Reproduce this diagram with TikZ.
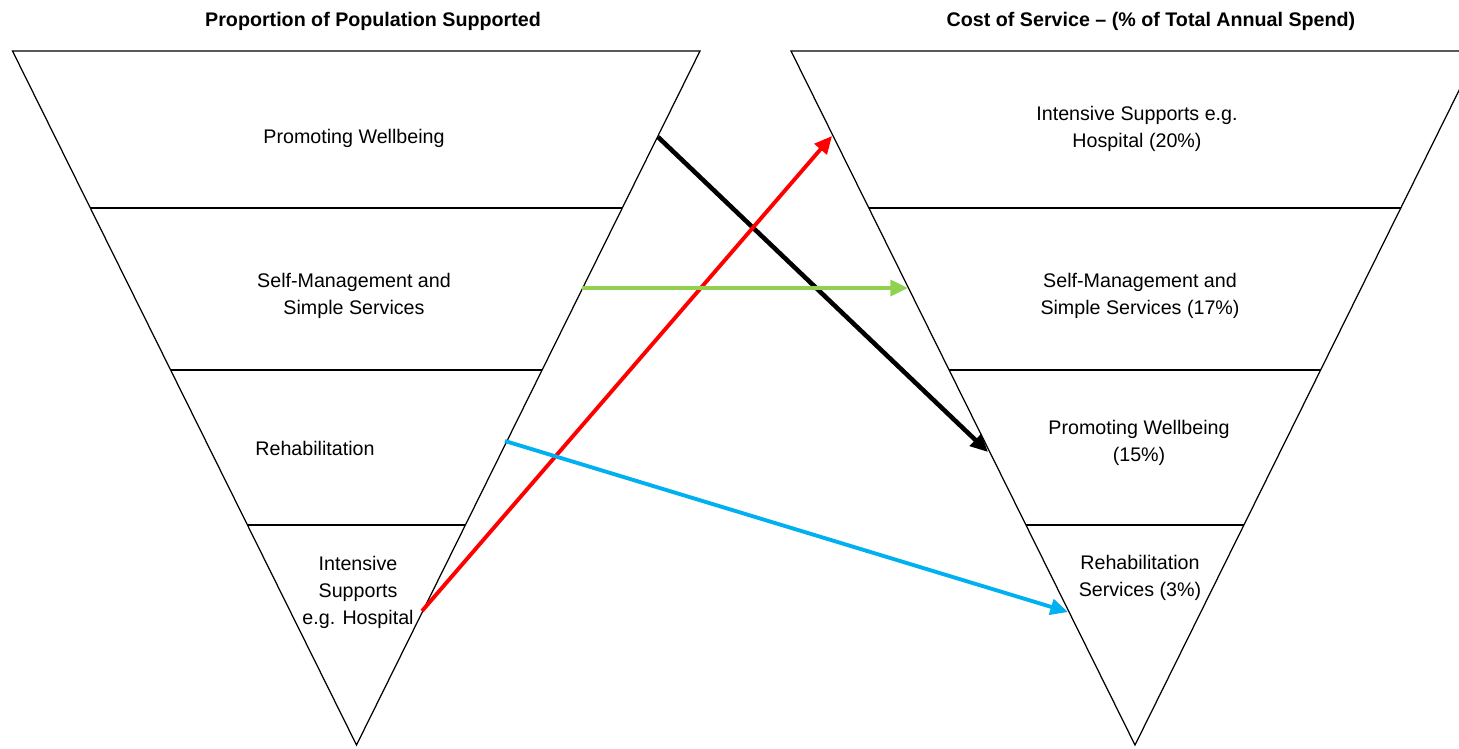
\documentclass[tikz,border=0pt]{standalone}
\usepackage{fontspec}
\setmainfont{Liberation Sans}
\usepackage{xcolor}
\usetikzlibrary{arrows.meta,calc}
\definecolor{arrowred}{RGB}{255,0,0}
\definecolor{arrowgreen}{RGB}{146,208,80}
\definecolor{arrowblue}{RGB}{0,176,240}

\begin{document}
\begin{tikzpicture}[x=0.02cm,y=-0.02cm,
	bandtext/.style={align=center,font=\fontsize{11.2}{15.4}\selectfont},
	headtext/.style={font=\fontsize{11.2}{14}\selectfont\bfseries},
	band/.style={line width=1.2pt},
	outline/.style={line width=0.7pt},
	flow/.style={line width=2.2pt,-{Triangle[length=10pt,width=9pt]}}]
	\useasboundingbox (0,0) rectangle (1459,748);

	% the two pyramids
	\coordinate (lTL) at (12.5,51);
	\coordinate (lTR) at (700,51);
	\coordinate (lA) at (356.5,745);
	\coordinate (rTL) at (791,51);
	\coordinate (rTR) at (1478.5,51);
	\coordinate (rA) at (1135,745);
	\draw[outline] (lTL) -- (lTR) -- (lA) -- cycle;
	\draw[outline] (rTL) -- (rTR) -- (rA) -- cycle;

	\draw[band] ($(lTL)!0.2262!(lA)$) -- ($(lTR)!0.2262!(lA)$);
	\draw[band] ($(lTL)!0.4597!(lA)$) -- ($(lTR)!0.4597!(lA)$);
	\draw[band] ($(lTL)!0.683!(lA)$) -- ($(lTR)!0.683!(lA)$);
	\draw[band] ($(rTL)!0.2262!(rA)$) -- ($(rTR)!0.2262!(rA)$);
	\draw[band] ($(rTL)!0.4597!(rA)$) -- ($(rTR)!0.4597!(rA)$);
	\draw[band] ($(rTL)!0.683!(rA)$) -- ($(rTR)!0.683!(rA)$);

	\node at (373,21) [headtext] (titleL) {Proportion of Population Supported};
	\node at (1151,21) [headtext] (titleR) {Cost of Service – (\% of Total Annual Spend)};

	\node at (354,138) [bandtext] (wellbeingL) {Promoting Wellbeing};
	\node at (354,296) [bandtext] (selfL) {Self-Management and\\Simple Services};
	\node at (315,448) [bandtext] (rehabL) {Rehabilitation};
	\node at (358,592) [bandtext] (intensiveL) {Intensive\\Supports\\e.g. Hospital};

	\node at (1137,129) [bandtext] (intensiveR) {Intensive Supports e.g.\\Hospital (20\%)};
	\node at (1140,296) [bandtext] (selfR) {Self-Management and\\Simple Services (17\%)};
	\node at (1139,443) [bandtext] (wellbeingR) {Promoting Wellbeing\\(15\%)};
	\node at (1140,578) [bandtext] (rehabR) {Rehabilitation\\Services (3\%)};

	% arrow ends on the pyramid sides
	\coordinate (wellbeingFrom) at (658,137);
	\coordinate (wellbeingTo) at (988,452);
	\coordinate (intensiveFrom) at (422,611);
	\coordinate (intensiveTo) at (832,136);
	\coordinate (selfFrom) at (582,288);
	\coordinate (selfTo) at (908,288);
	\coordinate (rehabFrom) at (505,441);
	\coordinate (rehabTo) at (1068,612);

	\draw[flow,black,line width=2.6pt] (wellbeingFrom) -- (wellbeingTo);
	\draw[flow,arrowred] (intensiveFrom) -- (intensiveTo);
	\draw[flow,arrowgreen] (selfFrom) -- (selfTo);
	\draw[flow,arrowblue] (rehabFrom) -- (rehabTo);
\end{tikzpicture}
\end{document}
